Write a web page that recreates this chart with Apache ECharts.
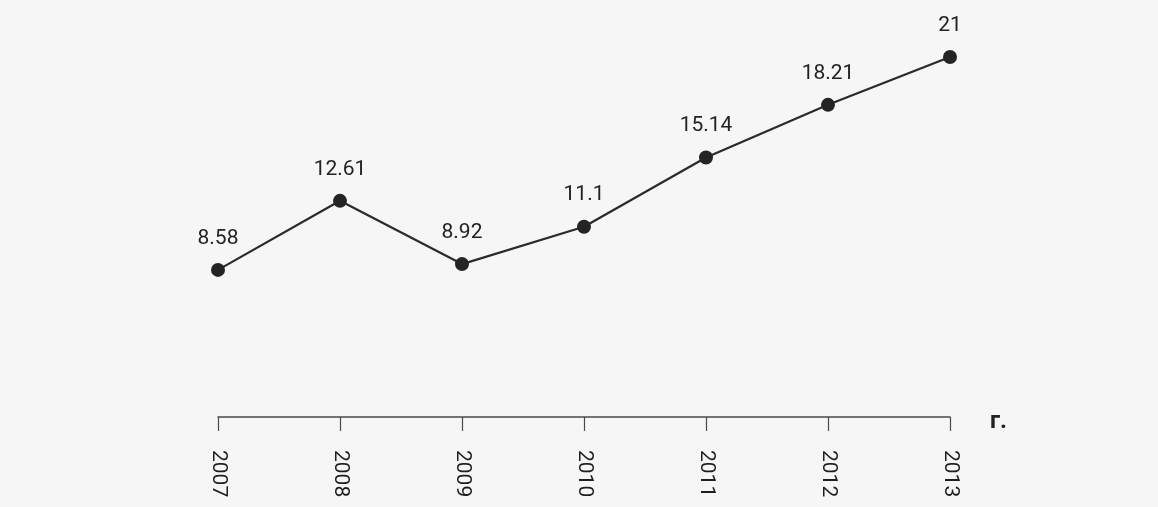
<!DOCTYPE html>
<html>
<head>
<meta charset="utf-8">
<script src="https://cdn.jsdelivr.net/npm/echarts@6/dist/echarts.min.js"></script>
<style>
html,body{margin:0;padding:0;background:#f6f6f6;}
#chart{width:1158px;height:507px;}
</style>
</head>
<body>
<div id="chart"></div>
<script>
const categories = ['2007', '2008', '2009', '2010', '2011', '2012', '2013'];
const values = [8.58, 12.61, 8.92, 11.1, 15.14, 18.21, 21];
const axisUnit = 'г.';

const chart = echarts.init(document.getElementById('chart'));
chart.setOption({
  backgroundColor: '#f6f6f6',
  animation: false,
  grid: { left: 218, right: 208, top: 57, height: 360 },
  xAxis: {
    type: 'category',
    data: categories,
    boundaryGap: false,
    name: axisUnit,
    nameLocation: 'end',
    nameGap: 40,
    nameTextStyle: { fontFamily: 'Roboto', fontSize: 24, fontWeight: 'bold', color: '#222', verticalAlign: 'top', lineHeight: 10 },
    axisLine: { lineStyle: { color: '#4a4a4a', width: 1.5 } },
    axisTick: { alignWithLabel: true, length: 14, lineStyle: { color: '#4a4a4a', width: 1.2 } },
    axisLabel: {
      rotate: -90,
      margin: 33,
      fontFamily: 'Roboto',
      fontSize: 21,
      color: '#1e1e1e'
    }
  },
  yAxis: {
    type: 'value',
    min: 0,
    max: 21,
    show: false
  },
  series: [{
    type: 'line',
    data: values,
    symbol: 'circle',
    symbolSize: 14,
    itemStyle: { color: '#242424' },
    lineStyle: { color: '#2a2a2a', width: 2.2 },
    label: {
      show: true,
      position: 'top',
      distance: 14,
      fontFamily: 'Roboto',
      fontSize: 21,
      color: '#222'
    }
  }]
});
</script>
</body>
</html>
